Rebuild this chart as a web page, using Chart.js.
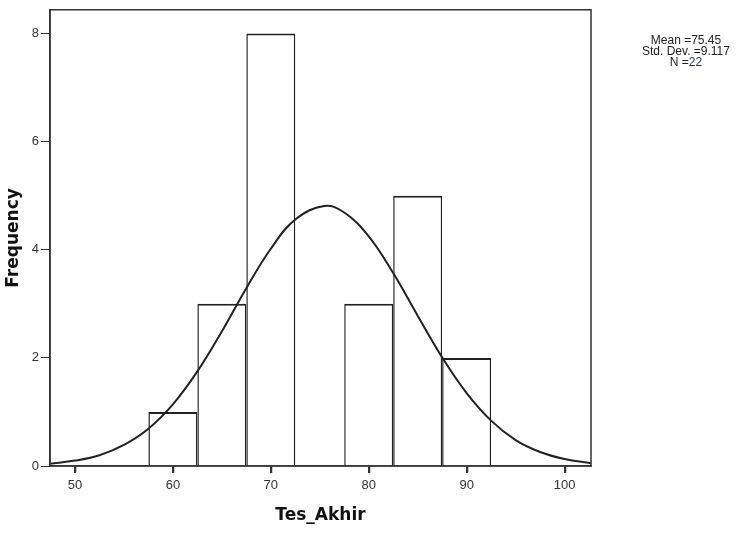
<!DOCTYPE html>
<html>
<head>
<meta charset="utf-8">
<script src="https://cdn.jsdelivr.net/npm/chart.js@4"></script>
<style>
  body { margin: 0; background: #fff; }
  #wrap { position: relative; width: 741px; height: 533px; }
  #stats {
    position: absolute; left: 626px; top: 35px; width: 120px;
    font: 12px "Liberation Sans", Arial, sans-serif; color: #222;
    text-align: center; line-height: 11px;
  }
</style>
</head>
<body>
<div id="wrap">
  <canvas id="histo" width="741" height="533"></canvas>
  <div id="stats">Mean =75.45<br>Std. Dev. =9.117<br>N =<span style="color:#335">22</span></div>
</div>
<script>
// histogram bins (centres) and counts
const binCentres = [60, 65, 70, 75, 80, 85, 90];
const counts = [1, 3, 8, 0, 3, 5, 2];

// normal curve
const curveX = [47.45, 50, 52.5, 55, 57.5, 60, 62.5, 65, 67.5, 70, 72.5, 75.45, 77.5, 80, 82.5, 85, 87.5, 90, 92.5, 95, 97.5, 100, 102.7];
const curveY = [0.04, 0.10, 0.20, 0.39, 0.69, 1.14, 1.75, 2.49, 3.29, 4.02, 4.56, 4.81, 4.69, 4.25, 3.57, 2.78, 2.01, 1.35, 0.84, 0.48, 0.26, 0.13, 0.05];

const xTicks = [50, 60, 70, 80, 90, 100];
const yTicks = [0, 2, 4, 6, 8];

// box round the plot plus the little x tick marks
const frame = {
    id: 'frame',
    afterDraw(chart) {
        const a = chart.chartArea;
        const c = chart.ctx;
        const xs = chart.scales.x;
        c.save();
        c.strokeStyle = '#333';
        c.lineWidth = 1.5;
        c.strokeRect(a.left, a.top, a.right - a.left, a.bottom - a.top);
        c.beginPath();
        xTicks.forEach(v => {
            const px = Math.round(xs.getPixelForValue(v)) + 0.5;
            c.moveTo(px, a.bottom);
            c.lineTo(px, a.bottom + 7);
        });
        c.stroke();
        c.restore();
    }
};

const ctx = document.getElementById('histo').getContext('2d');
new Chart(ctx, {
    data: {
        datasets: [{
            type: 'line',
            data: curveX.map((x, i) => ({ x: x, y: curveY[i] })),
            borderColor: '#222',
            borderWidth: 2,
            pointRadius: 0,
            tension: 0.4,
            fill: false,
            order: 0
        }, {
            type: 'bar',
            data: binCentres.map((x, i) => ({ x: x, y: counts[i] })),
            backgroundColor: '#fff',
            borderColor: '#222',
            borderWidth: { top: 2, left: 1.5, right: 1.5, bottom: 0 },
            inflateAmount: 0,
            barPercentage: 1,
            categoryPercentage: 1,
            order: 1
        }]
    },
    options: {
        responsive: false,
        animation: false,
        layout: { padding: { left: 0, top: 6, right: 150, bottom: 0 } },
        plugins: { legend: { display: false }, tooltip: { enabled: false } },
        scales: {
            x: {
                type: 'linear',
                min: 47.45,
                max: 102.7,
                offset: false,
                afterBuildTicks: s => { s.ticks = xTicks.map(v => ({ value: v })); },
                afterFit: s => { s.height = 67; },
                grid: { offset: false, drawOnChartArea: false, drawTicks: true, tickLength: 7, color: '#333' },
                border: { color: '#333', width: 1.5 },
                ticks: { color: '#333', font: { family: 'Liberation Sans', size: 13 }, padding: 5, maxRotation: 0 },
                title: {
                    display: true, text: 'Tes_Akhir', color: '#111',
                    font: { family: 'DejaVu Sans', size: 17, weight: 'bold' },
                    padding: { top: 0, bottom: 7 }
                }
            },
            y: {
                min: 0,
                max: 8.44,
                afterBuildTicks: s => { s.ticks = yTicks.map(v => ({ value: v })); },
                afterFit: s => { s.width = 50; },
                grid: { drawOnChartArea: false, drawTicks: true, tickLength: 9, color: '#333' },
                border: { color: '#333', width: 1.5 },
                ticks: { color: '#333', font: { family: 'Liberation Sans', size: 13 }, padding: 2 },
                title: {
                    display: true, text: 'Frequency', color: '#111',
                    font: { family: 'DejaVu Sans', size: 17, weight: 'bold' },
                    padding: { top: 3, bottom: 0 }
                }
            }
        }
    },
    plugins: [frame]
});
</script>
</body>
</html>
